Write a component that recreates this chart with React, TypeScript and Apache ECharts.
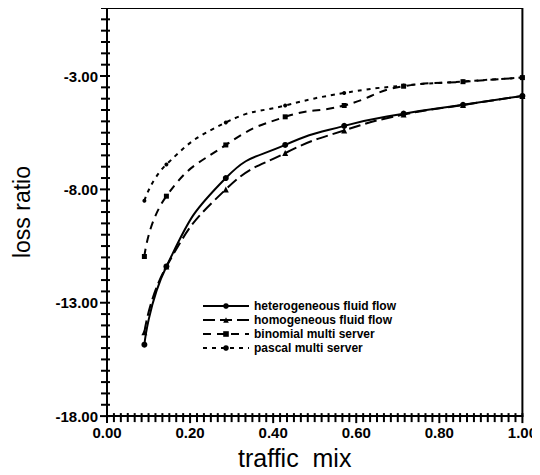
import React, { useEffect, useRef } from "react";
import * as echarts from "echarts";

const mix = [0.09, 0.143, 0.286, 0.429, 0.571, 0.714, 0.857, 1.0];
const heterogeneous = [-14.85, -11.4, -7.5, -6.04, -5.2, -4.66, -4.27, -3.88];
const homogeneous = [-14.3, -11.4, -8.0, -6.4, -5.4, -4.7, -4.28, -3.88];
const binomial = [-10.96, -8.3, -6.04, -4.8, -4.3, -3.45, -3.25, -3.07];
const pascal = [-8.5, -6.9, -5.05, -4.3, -3.75, -3.42, -3.24, -3.07];
const seriesNames = [
  "heterogeneous fluid flow",
  "homogeneous fluid flow",
  "binomial multi server",
  "pascal multi server",
];
const yLabelValues = [-18, -13, -8, -3];
const xLabelValues = [0, 0.2, 0.4, 0.6, 0.8, 1.0];
const yMinorStep = 0.5;
const xMinorStep = 1 / 60;

const FONT = "Liberation Sans";

function pairs(ys: number[]) {
  return mix.map((x, i) => [x, ys[i]]);
}

export default function App() {
  const ref = useRef<HTMLDivElement>(null);
  useEffect(() => {
    if (!ref.current) return;
    const chart = echarts.init(ref.current, null, { renderer: "svg" });
    const styles = [
      { type: "solid", symbol: "circle", size: 6 },
      { type: [12, 5], symbol: "triangle", size: 6 },
      { type: [8, 6], symbol: "rect", size: 5 },
      { type: [4, 5], symbol: "circle", size: 4 },
    ];
    const data = [heterogeneous, homogeneous, binomial, pascal];

    const yTickData: number[][] = [];
    for (let k = 0; k <= Math.round(18 / yMinorStep); k++) {
      const v = -18 + k * yMinorStep;
      yTickData.push([0, v, yLabelValues.some((t) => Math.abs(t - v) < 1e-6) ? 1 : 0]);
    }
    const xTickData: number[][] = [];
    for (let k = 0; k <= Math.round(1 / xMinorStep); k++) {
      const v = k * xMinorStep;
      xTickData.push([v, -18, xLabelValues.some((t) => Math.abs(t - v) < 1e-6) ? 1 : 0]);
    }

    chart.setOption({
      animation: false,
      backgroundColor: "#fff",
      grid: {
        left: 107,
        top: 8,
        right: 12,
        bottom: 50,
        show: true,
        borderColor: "#000",
        borderWidth: 2,
      },
      legend: {
        orient: "vertical",
        left: 197,
        top: 295,
        itemWidth: 46,
        itemHeight: 7,
        itemGap: 2,
        textStyle: { fontFamily: FONT, fontSize: 12, fontWeight: "bold", color: "#000" },
        data: seriesNames,
      },
      xAxis: {
        type: "value",
        min: 0,
        max: 1,
        interval: 0.2,
        name: "traffic  mix",
        nameLocation: "middle",
        nameGap: 27,
        nameTextStyle: { fontFamily: FONT, fontSize: 25, color: "#000", padding: [0, 40, 0, 0] },
        axisLine: { show: true, onZero: false, lineStyle: { color: "#000", width: 2 } },
        axisTick: { show: false },
        splitLine: { show: false },
        axisLabel: {
          margin: 9,
          fontFamily: FONT,
          fontSize: 15,
          fontWeight: "bold",
          color: "#000",
          formatter: (v: number) =>
            xLabelValues.some((t) => Math.abs(t - v) < 1e-6) ? v.toFixed(2) : "",
        },
      },
      yAxis: {
        type: "value",
        min: -18,
        max: 0,
        interval: 1,
        name: "loss ratio",
        nameLocation: "middle",
        nameGap: 74,
        nameTextStyle: { fontFamily: FONT, fontSize: 23, color: "#000" },
        axisLine: { show: true, onZero: false, lineStyle: { color: "#000", width: 2 } },
        axisTick: { show: false },
        splitLine: { show: false },
        axisLabel: {
          margin: 9,
          fontFamily: FONT,
          fontSize: 15,
          fontWeight: "bold",
          color: "#000",
          formatter: (v: number) =>
            yLabelValues.some((t) => Math.abs(t - v) < 1e-6) ? v.toFixed(2) : "",
        },
      },
      series: [
        ...data.map((ys, i) => ({
          name: seriesNames[i],
          type: "line",
          data: pairs(ys),
          smooth: 0.5,
          symbol: styles[i].symbol,
          symbolSize: styles[i].size,
          itemStyle: { color: "#000" },
          lineStyle: { color: "#000", width: 2, type: styles[i].type },
        })),
        {
          type: "custom",
          name: "yticks",
          silent: true,
          clip: false,
          z: 10,
          data: yTickData,
          renderItem: (params: any, api: any) => {
            const p = api.coord([api.value(0), api.value(1)]);
            const len = api.value(2) ? 7 : 6;
            return {
              type: "rect",
              shape: { x: p[0] - len, y: p[1] - 1, width: len + 3, height: 2 },
              style: { fill: "#000" },
            };
          },
        },
        {
          type: "custom",
          name: "xticks",
          silent: true,
          clip: false,
          z: 10,
          data: xTickData,
          renderItem: (params: any, api: any) => {
            const p = api.coord([api.value(0), api.value(1)]);
            const len = api.value(2) ? 7 : 6;
            return {
              type: "rect",
              shape: { x: p[0] - 1, y: p[1] - 3, width: 2, height: len + 3 },
              style: { fill: "#000" },
            };
          },
        },
      ],
    });
    return () => chart.dispose();
  }, []);
  return <div ref={ref} style={{ width: 540, height: 475, margin: -8 }} />;
}
